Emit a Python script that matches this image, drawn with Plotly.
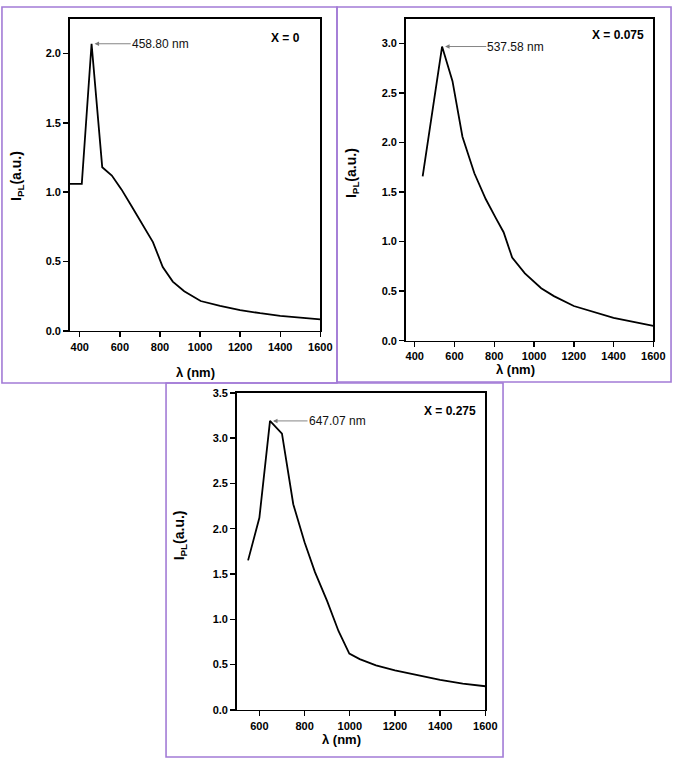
import plotly.graph_objects as go

W, H = 685, 766

# ---- data ----
wl_x0 = [350, 410, 458.8, 512, 560, 608, 658, 707, 765, 814, 864, 921, 1003, 1100, 1200, 1300, 1400, 1500, 1600]
pl_x0 = [1.06, 1.06, 2.07, 1.18, 1.12, 1.02, 0.90, 0.78, 0.64, 0.46, 0.355, 0.285, 0.215, 0.18, 0.15, 0.127, 0.108, 0.095, 0.082]

wl_x075 = [440, 490, 537.58, 590, 640, 700, 757, 806, 847, 890, 954, 1036, 1100, 1200, 1300, 1400, 1500, 1600]
pl_x075 = [1.66, 2.31, 2.97, 2.62, 2.06, 1.69, 1.43, 1.245, 1.095, 0.84, 0.68, 0.53, 0.45, 0.35, 0.29, 0.23, 0.19, 0.15]

wl_x275 = [550, 600, 647.07, 700, 750, 800, 846, 900, 950, 998, 1044, 1116, 1200, 1300, 1400, 1500, 1600]
pl_x275 = [1.65, 2.12, 3.19, 3.05, 2.27, 1.85, 1.52, 1.20, 0.87, 0.62, 0.56, 0.49, 0.435, 0.38, 0.33, 0.29, 0.26]

peak_labels = ["458.80 nm", "537.58 nm", "647.07 nm"]
peak_x = [458.8, 537.58, 647.07]
peak_y = [2.07, 2.97, 3.19]
sample_labels = ["X = 0", "X = 0.075", "X = 0.275"]
x_ticks = [[400, 600, 800, 1000, 1200, 1400, 1600],
           [400, 600, 800, 1000, 1200, 1400, 1600],
           [600, 800, 1000, 1200, 1400, 1600]]
y_ticks = [[0.0, 0.5, 1.0, 1.5, 2.0],
           [0.0, 0.5, 1.0, 1.5, 2.0, 2.5, 3.0],
           [0.0, 0.5, 1.0, 1.5, 2.0, 2.5, 3.0, 3.5]]

# ---- layout geometry (pixels) ----
FONT = "Liberation Sans, Arial, sans-serif"
PURPLE = "#a27bd6"
plots = [  # left, right, top, bottom (px)
    (71, 326, 13, 330),
    (413, 665, 13, 340),
    (241, 494, 393, 715),
]
xranges = [[350, 1600], [355, 1600], [500, 1600]]
yranges = [[0, 2.25], [0, 3.25], [0, 3.5]]
tail_x = [654, 760, 813]
label_right = [307, 658, 487]
label_y = [33, 29, 411]
xtitle_pos = [(199, 372), (525, 369), (348, 745)]
ytitle_pos = [(18, 173), (359, 170), (183, 538)]
boxes = [(2, 343, 1, 383), (343, 683, 1, 382), (169, 512, 383, 763)]

def px(v):
    return v / W

def py(v):
    return 1 - v / H

series = [(wl_x0, pl_x0), (wl_x075, pl_x075), (wl_x275, pl_x275)]

fig = go.Figure()
annotations = []
shapes = []
for i, (xs, ys) in enumerate(series):
    n = "" if i == 0 else str(i + 1)
    fig.add_trace(go.Scatter(x=xs, y=ys, mode="lines", line=dict(color="black", width=1.8),
                             xaxis="x" + n, yaxis="y" + n, showlegend=False, hoverinfo="skip"))
    l, r, t, b = plots[i]
    axcommon = dict(showline=True, linecolor="black", linewidth=1.6, mirror=True,
                    ticks="outside", ticklen=5, tickwidth=1.4, tickcolor="black",
                    showgrid=False, zeroline=False,
                    tickfont=dict(family=FONT, size=11, color="black", weight="bold"))
    fig.layout["xaxis" + n] = dict(domain=[px(l), px(r)], range=xranges[i], anchor="y" + n,
                                   tickvals=x_ticks[i], **axcommon)
    fig.layout["yaxis" + n] = dict(domain=[py(b), py(t)], range=yranges[i], anchor="x" + n,
                                   tickvals=y_ticks[i], tickformat=".1f", **axcommon)
    # peak arrow + label
    annotations.append(dict(x=peak_x[i], y=peak_y[i], xref="x" + n, yref="y" + n,
                            ax=tail_x[i], ay=peak_y[i], axref="x" + n, ayref="y" + n,
                            text=peak_labels[i], showarrow=True, arrowhead=2, arrowsize=1,
                            arrowwidth=0.9, arrowcolor="#777777", standoff=3,
                            xanchor="left", yanchor="middle", borderpad=0,
                            font=dict(family=FONT, size=12, color="#111111")))
    # sample label
    annotations.append(dict(x=px(label_right[i]), y=py(label_y[i]), xref="paper", yref="paper",
                            text=sample_labels[i], showarrow=False, xanchor="right", yanchor="middle",
                            font=dict(family=FONT, size=12, color="black", weight="bold")))
    # axis titles
    annotations.append(dict(x=px(xtitle_pos[i][0]), y=py(xtitle_pos[i][1]), xref="paper", yref="paper",
                            text="λ (nm)", showarrow=False, xanchor="center", yanchor="middle",
                            font=dict(family=FONT, size=13, color="black", weight="bold")))
    annotations.append(dict(x=px(ytitle_pos[i][0]), y=py(ytitle_pos[i][1]), xref="paper", yref="paper",
                            text="I<sub>PL</sub>(a.u.)", showarrow=False, textangle=-90,
                            xanchor="center", yanchor="middle",
                            font=dict(family=FONT, size=14, color="black", weight="bold")))
    bl, br, bt, bb = boxes[i]
    shapes.append(dict(type="rect", xref="paper", yref="paper", x0=px(bl), x1=px(br),
                       y0=py(bb), y1=py(bt), line=dict(color=PURPLE, width=1.6)))

fig.update_layout(width=W, height=H, margin=dict(l=0, r=0, t=0, b=0),
                  paper_bgcolor="white", plot_bgcolor="white",
                  annotations=annotations, shapes=shapes)
fig.write_html("out.html", config={"displayModeBar": False, "staticPlot": True},
               post_script="document.documentElement.style.margin='0px';"
                           "document.documentElement.style.overflow='hidden';"
                           "document.body.style.margin='0px';document.body.style.padding='0px';"
                           "document.body.style.overflow='hidden';")
